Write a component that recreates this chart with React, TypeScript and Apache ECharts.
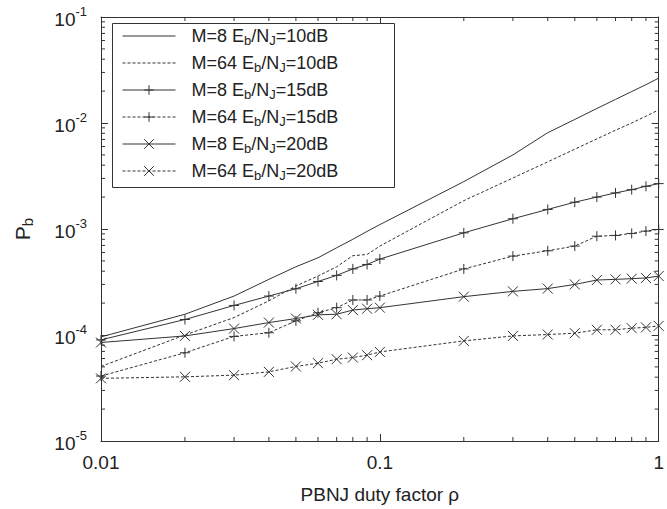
import React, { useEffect, useRef } from "react";
import * as echarts from "echarts";

const rho = [0.01, 0.02, 0.03, 0.04, 0.05, 0.06, 0.07, 0.08, 0.09, 0.1, 0.2, 0.3, 0.4, 0.5, 0.6, 0.7, 0.8, 0.9, 1];

const m8_10 = [9.6e-5, 1.57e-4, 2.33e-4, 3.35e-4, 4.4e-4, 5.35e-4, 6.65e-4, 8.0e-4, 9.5e-4, 1.1e-3, 2.8e-3, 5.0e-3, 8.1e-3, 1.08e-2, 1.37e-2, 1.67e-2, 1.98e-2, 2.3e-2, 2.65e-2];
const m64_10 = [5.05e-5, 1.0e-4, 1.46e-4, 2.1e-4, 2.9e-4, 3.6e-4, 4.4e-4, 5.6e-4, 5.75e-4, 6.9e-4, 1.85e-3, 3.03e-3, 4.3e-3, 5.66e-3, 7.08e-3, 8.55e-3, 1.0e-2, 1.16e-2, 1.33e-2];
const m8_15 = [9.0e-5, 1.4e-4, 1.9e-4, 2.33e-4, 2.73e-4, 3.2e-4, 3.65e-4, 4.2e-4, 4.63e-4, 5.2e-4, 9.2e-4, 1.25e-3, 1.53e-3, 1.79e-3, 2.0e-3, 2.19e-3, 2.35e-3, 2.53e-3, 2.68e-3];
const m64_15 = [4.1e-5, 6.8e-5, 9.7e-5, 1.05e-4, 1.36e-4, 1.62e-4, 1.81e-4, 2.14e-4, 2.14e-4, 2.33e-4, 4.2e-4, 5.55e-4, 6.23e-4, 6.9e-4, 8.55e-4, 8.7e-4, 9.08e-4, 9.55e-4, 9.9e-4];
const m8_20 = [8.5e-5, 9.8e-5, 1.15e-4, 1.31e-4, 1.43e-4, 1.55e-4, 1.57e-4, 1.72e-4, 1.77e-4, 1.81e-4, 2.3e-4, 2.58e-4, 2.74e-4, 3.0e-4, 3.3e-4, 3.35e-4, 3.4e-4, 3.45e-4, 3.6e-4];
const m64_20 = [3.9e-5, 4.03e-5, 4.18e-5, 4.49e-5, 5.05e-5, 5.42e-5, 5.91e-5, 6.13e-5, 6.45e-5, 6.92e-5, 8.8e-5, 9.8e-5, 1.01e-4, 1.04e-4, 1.12e-4, 1.12e-4, 1.16e-4, 1.18e-4, 1.22e-4];

const seriesNames = ["M=8 Eb/NJ=10dB", "M=64 Eb/NJ=10dB", "M=8 Eb/NJ=15dB", "M=64 Eb/NJ=15dB", "M=8 Eb/NJ=20dB", "M=64 Eb/NJ=20dB"];
const seriesM = ["8", "64", "8", "64", "8", "64"];
const seriesSNR = ["10", "10", "15", "15", "20", "20"];
const seriesValues = [m8_10, m64_10, m8_15, m64_15, m8_20, m64_20];
const seriesDashed = [false, true, false, true, false, true];
const seriesMarker = ["none", "none", "plus", "plus", "cross", "cross"];

const xMin = 0.01, xMax = 1, yMin = 1e-5, yMax = 1e-1;
const xMinorTicks = [0.02, 0.03, 0.04, 0.05, 0.06, 0.07, 0.08, 0.09, 0.2, 0.3, 0.4, 0.5, 0.6, 0.7, 0.8, 0.9];
const yMinorTicks = [
  2e-5, 3e-5, 4e-5, 5e-5, 6e-5, 7e-5, 8e-5, 9e-5,
  2e-4, 3e-4, 4e-4, 5e-4, 6e-4, 7e-4, 8e-4, 9e-4,
  2e-3, 3e-3, 4e-3, 5e-3, 6e-3, 7e-3, 8e-3, 9e-3,
  2e-2, 3e-2, 4e-2, 5e-2, 6e-2, 7e-2, 8e-2, 9e-2,
];

const INK = "#333";
const CLEAR = "rgba(0,0,0,0)";
const FONT = "Liberation Sans, Arial, sans-serif";
const SYMBOLS: Record<string, string> = {
  none: "none",
  plus: "path://M0,5L10,5M5,0L5,10",
  cross: "path://M0,0L10,10M10,0L0,10",
};

export default function App() {
  const ref = useRef<HTMLDivElement>(null);
  useEffect(() => {
    if (!ref.current) return;
    const chart = echarts.init(ref.current, undefined, { renderer: "svg" });

    const axisCommon = {
      type: "log" as const,
      logBase: 10,
      axisLine: { show: true, lineStyle: { color: INK, width: 1 } },
      axisTick: { show: true, inside: true, length: 7, lineStyle: { color: INK, width: 1 } },
      splitLine: { show: false },
      minorTick: { show: false },
    };

    const lines = seriesNames.map((name, i) => {
      const hasMarker = seriesMarker[i] !== "none";
      return {
        name,
        type: "line",
        data: rho.map((x, j) => [x, seriesValues[i][j]]),
        symbol: SYMBOLS[seriesMarker[i]],
        showSymbol: hasMarker,
        symbolSize: 10,
        lineStyle: { color: INK, width: 1, type: seriesDashed[i] ? [3, 2] : "solid" },
        itemStyle: { color: CLEAR, borderColor: hasMarker ? INK : CLEAR, borderWidth: hasMarker ? 1 : 0 },
        emphasis: { disabled: true },
        z: 3,
      };
    });

    const minorData: number[][] = [
      ...xMinorTicks.map((v) => [v, yMin, 0]),
      ...yMinorTicks.map((v) => [xMin, v, 1]),
    ];

    const option = {
      animation: false,
      grid: { left: 101, right: 5, top: 17, bottom: 67 },
      graphic: [
        {
          type: "rect",
          shape: { x: 112.5, y: 23.5, width: 282, height: 164 },
          style: { fill: "#fff", stroke: INK, lineWidth: 1 },
          z: 1,
        },
      ],
      legend: {
        orient: "vertical",
        left: 122,
        top: 27,
        padding: 0,
        itemWidth: 53,
        itemHeight: 12,
        itemGap: 7.5,
        selectedMode: false,
        data: seriesNames,
        lineStyle: { width: 1 },
        itemStyle: { borderWidth: 1 },
        formatter: (name: string) => {
          const i = seriesNames.indexOf(name);
          return `{t|M=${seriesM[i]} E}{s|b}{t|/N}{s|J}{t|=${seriesSNR[i]}dB}`;
        },
        textStyle: {
          color: "#222",
          fontFamily: FONT,
          fontSize: 18,
          padding: [0, 0, 0, 11],
          rich: {
            t: { fontSize: 18, fontFamily: FONT, color: "#222", lineHeight: 21 },
            s: { fontSize: 13, fontFamily: FONT, color: "#222", lineHeight: 11, verticalAlign: "bottom" },
          },
        },
      },
      xAxis: [
        {
          ...axisCommon,
          position: "bottom",
          min: xMin,
          max: xMax,
          axisLabel: {
            fontSize: 19,
            color: "#222",
            fontFamily: FONT,
            margin: 12,
            formatter: (v: number) => String(parseFloat(v.toPrecision(6))),
          },
          name: "PBNJ duty factor ρ",
          nameLocation: "middle",
          nameGap: 44,
          nameTextStyle: { fontSize: 19, color: "#222", fontFamily: FONT },
        },
        {
          ...axisCommon,
          position: "top",
          min: xMin,
          max: xMax,
          axisLabel: { show: false },
        },
      ],
      yAxis: [
        {
          ...axisCommon,
          position: "left",
          min: yMin,
          max: yMax,
          axisLabel: {
            margin: 14,
            formatter: (v: number) => `{b|10}{e|${Math.round(Math.log10(v))}}`,
            rich: {
              b: { fontSize: 19, color: "#222", fontFamily: FONT, lineHeight: 24, verticalAlign: "bottom" },
              e: { fontSize: 13, color: "#222", fontFamily: FONT, lineHeight: 24, verticalAlign: "top" },
            },
          },
          name: "{p|P}{s|b}",
          nameLocation: "middle",
          nameGap: 66,
          nameTextStyle: {
            rich: {
              p: { fontSize: 21, color: "#222", fontFamily: FONT, lineHeight: 26 },
              s: { fontSize: 15, color: "#222", fontFamily: FONT, lineHeight: 26, verticalAlign: "bottom" },
            },
          },
        },
        {
          ...axisCommon,
          position: "right",
          min: yMin,
          max: yMax,
          axisLabel: { show: false },
        },
      ],
      series: [
        ...lines,
        {
          type: "custom",
          name: "minorTicks",
          silent: true,
          clip: false,
          xAxisIndex: 0,
          yAxisIndex: 0,
          data: minorData,
          z: 4,
          renderItem: (params: any, api: any) => {
            const a = api.value(0);
            const b = api.value(1);
            const kind = api.value(2);
            const len = 4;
            const st = { stroke: INK, lineWidth: 1 };
            if (kind === 0) {
              const p1 = api.coord([a, yMin]);
              const p2 = api.coord([a, yMax]);
              return {
                type: "group",
                children: [
                  { type: "line", shape: { x1: p1[0], y1: p1[1], x2: p1[0], y2: p1[1] - len }, style: st },
                  { type: "line", shape: { x1: p2[0], y1: p2[1], x2: p2[0], y2: p2[1] + len }, style: st },
                ],
              };
            }
            const q1 = api.coord([xMin, b]);
            const q2 = api.coord([xMax, b]);
            return {
              type: "group",
              children: [
                { type: "line", shape: { x1: q1[0], y1: q1[1], x2: q1[0] + len, y2: q1[1] }, style: st },
                { type: "line", shape: { x1: q2[0], y1: q2[1], x2: q2[0] - len, y2: q2[1] }, style: st },
              ],
            };
          },
        },
      ],
    };

    chart.setOption(option as any);
    return () => chart.dispose();
  }, []);

  return (
    <div
      ref={ref}
      style={{ position: "fixed", left: 0, top: 0, width: 667, height: 509, background: "#fff" }}
    />
  );
}
